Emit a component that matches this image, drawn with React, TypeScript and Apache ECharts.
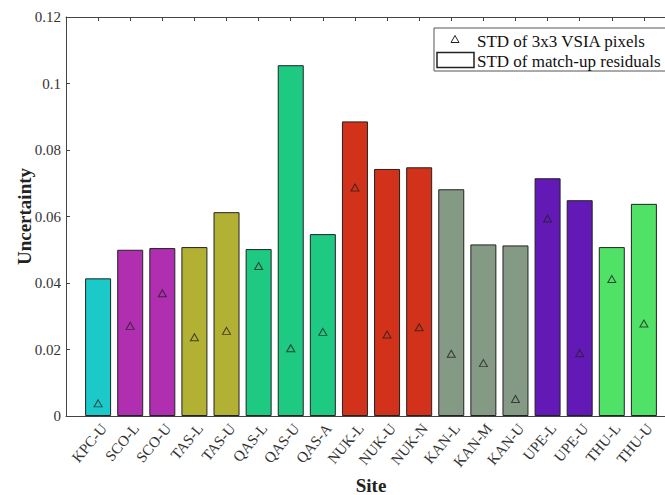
import React, { useEffect, useRef } from "react";
import * as echarts from "echarts";

const sites = ["KPC-U", "SCO-L", "SCO-U", "TAS-L", "TAS-U", "QAS-L", "QAS-U", "QAS-A", "NUK-L", "NUK-U", "NUK-N", "KAN-L", "KAN-M", "KAN-U", "UPE-L", "UPE-U", "THU-L", "THU-U"];
const residualStd = [0.0414, 0.0500, 0.0505, 0.0508, 0.0613, 0.0502, 0.1055, 0.0547, 0.0886, 0.0743, 0.0748, 0.0682, 0.0516, 0.0513, 0.0715, 0.0649, 0.0508, 0.0638];
const pixelStd = [0.0038, 0.0271, 0.0369, 0.0237, 0.0256, 0.0451, 0.0204, 0.0253, 0.0687, 0.0245, 0.0267, 0.0187, 0.0159, 0.0051, 0.0594, 0.0189, 0.0412, 0.0278];
const siteColors = ["#1CC9C9", "#B02EB0", "#B3B133", "#1EC981", "#D23219", "#849A84", "#6319B5", "#50E266"];
const colorIndex = [0, 1, 1, 2, 2, 3, 3, 3, 4, 4, 4, 5, 5, 5, 6, 6, 7, 7];
const yTicks = [0, 0.02, 0.04, 0.06, 0.08, 0.1, 0.12];
const legendLabels = ["STD of 3x3 VSIA pixels", "STD of match-up residuals"];

const FONT = "'Liberation Serif', 'Times New Roman', serif";
const CHART_W = 682;

export default function App() {
  const ref = useRef<HTMLDivElement>(null);
  useEffect(() => {
    if (!ref.current) return;
    const chart = echarts.init(ref.current, null, { renderer: "svg", width: CHART_W, height: 495 });
    const axisColor = "#444";
    const xAxisBase = {
      type: "value",
      min: 0,
      max: sites.length + 1,
      interval: 1,
      splitLine: { show: false },
    };
    chart.setOption({
      animation: false,
      backgroundColor: "#fff",
      grid: { left: 66, right: CHART_W - 676, top: 17, bottom: 79, outerBoundsMode: "none", containLabel: false },
      xAxis: [
        {
          ...xAxisBase,
          position: "bottom",
          axisLine: { show: true, onZero: false, lineStyle: { color: axisColor, width: 1 } },
          name: "Site",
          nameLocation: "middle",
          nameGap: 60,
          nameMoveOverlap: false,
          nameTextStyle: { fontFamily: FONT, fontSize: 19, fontWeight: "bold", color: "#222" },
          axisTick: { show: true, inside: true, length: 4, lineStyle: { color: axisColor } },
          axisLabel: {
            show: true,
            rotate: 50,
            margin: 5,
            verticalAlign: "top",
            fontFamily: FONT,
            fontSize: 15,
            color: "#333",
            formatter: (v: number) => (v >= 1 && v <= sites.length ? sites[Math.round(v) - 1] : ""),
          },
        },
        {
          ...xAxisBase,
          position: "top",
          axisLine: { show: true, onZero: false, lineStyle: { color: axisColor, width: 1 } },
          axisTick: { show: true, inside: true, length: 4, lineStyle: { color: axisColor } },
          axisLabel: { show: false },
        },
      ],
      yAxis: {
        type: "value",
        min: yTicks[0],
        max: yTicks[yTicks.length - 1],
        interval: 0.02,
        splitLine: { show: false },
        axisLine: { show: true, onZero: false, lineStyle: { color: axisColor, width: 1 } },
        axisTick: { show: true, inside: true, length: 4, lineStyle: { color: axisColor } },
        axisLabel: { fontFamily: FONT, fontSize: 15, color: "#333", margin: 5 },
        name: "Uncertainty",
        nameLocation: "middle",
        nameGap: 32,
        nameMoveOverlap: false,
        nameTextStyle: { fontFamily: FONT, fontSize: 19, fontWeight: "bold", color: "#222" },
      },
      series: [
        {
          type: "bar",
          barWidth: 26,
          data: residualStd.map((v, i) => ({
            value: [i + 1, v],
            itemStyle: { color: siteColors[colorIndex[i]], borderColor: "#222", borderWidth: 1 },
          })),
        },
        {
          type: "scatter",
          symbol: "triangle",
          symbolSize: [8, 7],
          itemStyle: { color: "rgba(0,0,0,0)", borderColor: "#222", borderWidth: 1 },
          data: pixelStd.map((v, i) => [i + 1, v]),
          z: 5,
        },
      ],
      graphic: [
        {
          type: "rect",
          shape: { x: 434, y: 28, width: 232, height: 43 },
          style: { fill: "#fff", stroke: "#555", lineWidth: 1 },
          z: 10,
        },
        {
          type: "polygon",
          shape: { points: [[455, 35.5], [459, 42.5], [451, 42.5]] },
          style: { fill: "none", stroke: "#222", lineWidth: 1 },
          z: 11,
        },
        {
          type: "rect",
          shape: { x: 437, y: 52.5, width: 37, height: 15 },
          style: { fill: "#fff", stroke: "#222", lineWidth: 1.5 },
          z: 11,
        },
        {
          type: "text",
          x: 477,
          y: 41,
          style: { text: legendLabels[0], font: `17px ${FONT}`, fill: "#111", verticalAlign: "middle" },
          z: 11,
        },
        {
          type: "text",
          x: 477,
          y: 61,
          style: { text: legendLabels[1], font: `17px ${FONT}`, fill: "#111", verticalAlign: "middle" },
          z: 11,
        },
      ],
    });
    return () => chart.dispose();
  }, []);
  return (
    <div style={{ position: "absolute", left: 0, top: 0, width: 665, height: 495, overflow: "hidden" }}>
      <div ref={ref} style={{ width: CHART_W, height: 495 }} />
    </div>
  );
}
